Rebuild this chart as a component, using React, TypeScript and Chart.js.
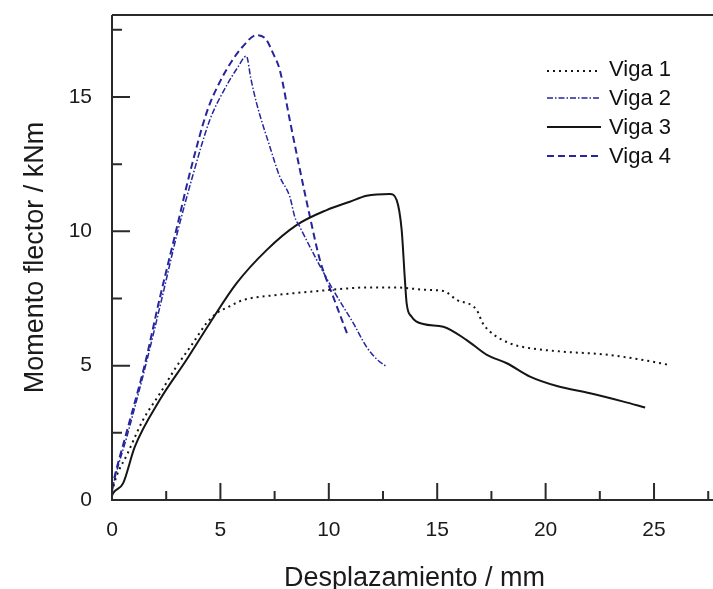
import React, { useEffect, useRef } from "react";
import { Chart, registerables } from "chart.js";
Chart.register(...registerables);

// ---- data (mm, kNm) ----
const viga1X = [0, 0.2, 0.7, 1.43, 2.2, 2.97, 3.7, 4.36, 4.82, 5.4, 6.05, 7.59, 9.13, 10.97, 11.74, 13.13, 14.5, 15.28, 15.9, 16.82, 17.1, 17.44, 18.36, 19.13, 20.82, 22.67, 24.21, 25.75];
const viga1Y = [0.3, 0.87, 1.7, 2.98, 3.95, 4.96, 5.8, 6.58, 6.95, 7.2, 7.44, 7.63, 7.75, 7.88, 7.91, 7.91, 7.82, 7.78, 7.45, 7.07, 6.58, 6.26, 5.83, 5.67, 5.52, 5.42, 5.25, 5.02];

const viga2X = [0, 0.1, 0.7, 1.55, 2.3, 3.0, 3.7, 4.51, 5.2, 5.8, 6.2, 6.4, 6.67, 7.28, 7.74, 8.2, 8.43, 8.66, 9.4, 10.2, 11.13, 11.74, 12.2, 12.67];
const viga2Y = [0.3, 0.7, 2.4, 5.0, 7.5, 9.9, 12.0, 14.14, 15.3, 16.1, 16.52, 15.7, 14.76, 13.15, 12.03, 11.29, 10.54, 10.17, 9.0, 7.82, 6.58, 5.7, 5.25, 4.96];

const viga3X = [0, 0.05, 0.51, 1.05, 2.2, 3.43, 4.51, 5.74, 7.13, 8.51, 9.9, 10.97, 11.74, 12.82, 13.13, 13.36, 13.51, 13.59, 13.82, 14.36, 15.28, 16.36, 17.29, 18.21, 19.28, 20.52, 22.05, 23.59, 24.59];
const viga3Y = [0.15, 0.25, 0.62, 1.98, 3.72, 5.21, 6.58, 8.06, 9.3, 10.23, 10.79, 11.1, 11.32, 11.39, 11.16, 10.05, 8.19, 7.32, 6.82, 6.55, 6.45, 5.95, 5.4, 5.09, 4.59, 4.24, 3.97, 3.66, 3.44];

const viga4X = [0, 0.05, 0.66, 1.5, 2.2, 2.95, 3.6, 4.4, 5.0, 5.5, 6.0, 6.67, 7.1, 7.43, 7.74, 8.2, 8.67, 9.13, 9.59, 10.2, 10.9];
const viga4Y = [0.4, 0.62, 2.48, 5.0, 7.5, 10.0, 12.2, 14.5, 15.6, 16.3, 16.85, 17.3, 17.15, 16.62, 16.0, 14.14, 12.28, 10.54, 8.93, 7.57, 6.08];

const seriesNames = ["Viga 1", "Viga 2", "Viga 3", "Viga 4"];
const xTitle = "Desplazamiento / mm";
const yTitle = "Momento flector / kNm";
const xMin = 0;
const xMax = 27.72;
const yMin = 0;
const yMax = 18.05;
const majorStep = 5;
const minorStep = 2.5;

const FONT = '"Liberation Sans", Arial, sans-serif';
const BLUE = "#25259d";
const BLACK = "#151515";

const styles = [
  { color: BLACK, width: 2, dash: [2, 4] },
  { color: BLUE, width: 1.5, dash: [6, 2, 1.5, 2] },
  { color: BLACK, width: 2, dash: [] as number[] },
  { color: BLUE, width: 2, dash: [7, 4] },
];

function pts(xs: number[], ys: number[]) {
  return xs.map((x, i) => ({ x, y: ys[i] }));
}

const framePlugin = {
  id: "frame",
  afterDraw(chart: any) {
    const { ctx, chartArea, scales } = chart;
    const { left, top, right, bottom } = chartArea;
    const xs = scales.x;
    const ys = scales.y;
    ctx.save();
    ctx.strokeStyle = "#2a2a2a";
    ctx.lineWidth = 2;
    ctx.setLineDash([]);
    ctx.beginPath();
    ctx.moveTo(left, top);
    ctx.lineTo(right, top);
    ctx.moveTo(left, top);
    ctx.lineTo(left, bottom);
    ctx.lineTo(right, bottom);
    ctx.stroke();
    // inward ticks
    ctx.beginPath();
    for (let k = 1; k * minorStep < xMax; k++) {
      const v = k * minorStep;
      const px = xs.getPixelForValue(v);
      const len = k % 2 === 0 ? 17 : 9;
      ctx.moveTo(px, bottom);
      ctx.lineTo(px, bottom - len);
    }
    for (let k = 1; k * minorStep < yMax; k++) {
      const v = k * minorStep;
      const py = ys.getPixelForValue(v);
      const len = k % 2 === 0 ? 18 : 10;
      ctx.moveTo(left, py);
      ctx.lineTo(left + len, py);
    }
    ctx.stroke();

    // axis titles
    ctx.fillStyle = "#1a1a1a";
    ctx.font = `27px ${FONT}`;
    ctx.textAlign = "center";
    ctx.textBaseline = "alphabetic";
    ctx.fillText(xTitle, (left + right) / 2 + 2, 586);
    ctx.save();
    ctx.translate(43, (top + bottom) / 2);
    ctx.rotate(-Math.PI / 2);
    ctx.fillText(yTitle, 0, 0);
    ctx.restore();

    // legend
    ctx.font = `22px ${FONT}`;
    ctx.textAlign = "left";
    ctx.textBaseline = "middle";
    seriesNames.forEach((name, i) => {
      const yy = 69 + i * 29;
      const st = styles[i];
      ctx.strokeStyle = st.color;
      ctx.lineWidth = st.width;
      ctx.setLineDash(st.dash);
      ctx.beginPath();
      const ly = i === 0 ? yy + 2 : yy;
      ctx.moveTo(547, ly);
      ctx.lineTo(601, ly);
      ctx.stroke();
      ctx.setLineDash([]);
      ctx.fillStyle = "#111";
      ctx.fillText(name, 609, yy + 1);
    });
    ctx.restore();
  },
};

export default function App() {
  const ref = useRef<HTMLCanvasElement | null>(null);
  useEffect(() => {
    if (!ref.current) return;
    const data = [pts(viga1X, viga1Y), pts(viga2X, viga2Y), pts(viga3X, viga3Y), pts(viga4X, viga4Y)];
    const chart = new Chart(ref.current, {
      type: "scatter",
      data: {
        datasets: data.map((d, i) => ({
          label: seriesNames[i],
          data: d,
          showLine: true,
          borderColor: styles[i].color,
          borderWidth: styles[i].width,
          borderDash: styles[i].dash,
          pointRadius: 0,
          cubicInterpolationMode: "monotone",
          fill: false,
        })),
      },
      options: {
        responsive: false,
        animation: false,
        layout: { padding: { top: 15, right: 0, left: 0, bottom: 0 } },
        plugins: { legend: { display: false }, tooltip: { enabled: false } },
        scales: {
          x: {
            type: "linear",
            min: xMin,
            max: xMax,
            afterFit: (s: any) => {
              s.height = 89;
              s.paddingLeft = 0;
              s.paddingRight = 0;
            },
            grid: { display: false, drawTicks: false },
            border: { display: false },
            ticks: {
              stepSize: majorStep,
              includeBounds: false,
              padding: 18,
              color: "#1a1a1a",
              font: { size: 21, family: FONT },
              maxRotation: 0,
            },
          },
          y: {
            type: "linear",
            min: yMin,
            max: yMax,
            afterFit: (s: any) => {
              s.width = 112;
              s.paddingTop = 0;
              s.paddingBottom = 0;
            },
            grid: { display: false, drawTicks: false },
            border: { display: false },
            ticks: {
              stepSize: majorStep,
              includeBounds: false,
              padding: 20,
              color: "#1a1a1a",
              font: { size: 21, family: FONT },
            },
          },
        },
      },
      plugins: [framePlugin],
    } as any);
    return () => chart.destroy();
  }, []);
  return (
    <div style={{ position: "absolute", left: 0, top: 0, width: 713, height: 589, background: "#fff" }}>
      <canvas ref={ref} width={713} height={589} />
    </div>
  );
}
